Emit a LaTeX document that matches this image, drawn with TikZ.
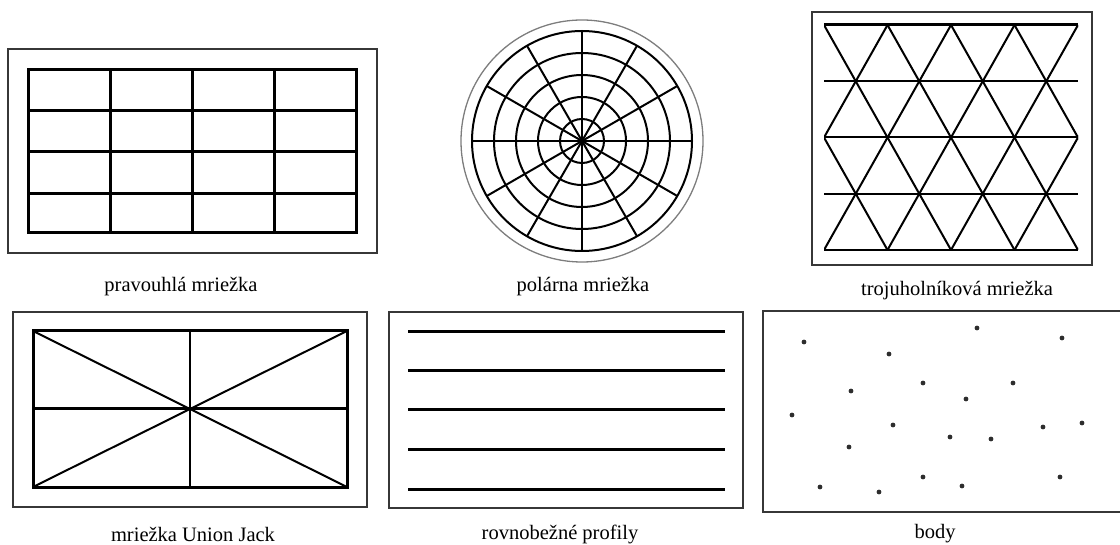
\documentclass[tikz,border=0pt]{standalone}
\usepackage{fontspec}
\setmainfont{Liberation Serif}
\usepackage{tikz}
\definecolor{framegray}{RGB}{55,55,55}
\definecolor{ringgray}{RGB}{125,125,125}
\definecolor{dotgray}{RGB}{45,45,45}

\begin{document}
\begin{tikzpicture}[x=1pt, y=-1pt,
  frame/.style={draw=framegray, line width=1.3pt},
  heavy/.style={line width=3pt},
  light/.style={line width=2pt},
  caption/.style={font=\fontsize{20.5}{24}\selectfont, inner sep=0pt},
  sample/.style={fill=dotgray}]
\useasboundingbox (0,0) rectangle (1120,545);

%% pravouhla mriezka
\draw[frame] (8,49) rectangle (377,253);
\foreach \gx in {110,192,274} \draw[heavy] (\gx,70) -- (\gx,233);
\foreach \gy in {111,152,194} \draw[heavy] (28,\gy) -- (356,\gy);
\draw[heavy] (28,70) rectangle (356,233);
\node[caption] (rectcap) at (181,287) {pravouhlá mriežka};

%% polarna mriezka
\draw[draw=ringgray, line width=1.3pt] (582,141) circle[radius=121pt];
\foreach \r in {22,44,66,88,110} \draw[light] (582,141) circle[radius=\r pt];
\foreach \a in {0,30,...,330} \draw[light] (582,141) -- ++(\a:110);
\fill (582,141) circle[radius=3pt];
\node[caption] (polarcap) at (583,287) {polárna mriežka};

%% trojuholnikova mriezka
\draw[frame] (812,12) rectangle (1092,265);
\begin{scope}
  \clip (824,25) rectangle (1078,250);
  \foreach \k in {-2,...,4} \draw[light] ({824+63.5*\k},25) -- ++(127,225);
  \foreach \k in {0,...,6}  \draw[light] ({824+63.5*\k},25) -- ++(-127,225);
\end{scope}
\draw[heavy] (824,25) -- (1078,25);
\foreach \ty in {81.25,137.5,193.75,250} \draw[light] (824,\ty) -- (1078,\ty);
\node[caption] (tricap) at (957,291) {trojuholníková mriežka};

%% mriezka Union Jack
\draw[frame] (13,312) rectangle (367,507);
\draw[heavy] (33,331) rectangle (347,487);
\draw[heavy] (33,409) -- (347,409);
\draw[light] (190,331) -- (190,487);
\draw[light] (33,331) -- (347,487);
\draw[light] (33,487) -- (347,331);
\node[caption] (ujcap) at (193,534) {mriežka Union Jack};

%% rovnobezne profily
\draw[frame] (389,312) rectangle (743,508);
\foreach \py in {332,371,410,449,489} \draw[heavy] (408,\py) -- (725,\py);
\node[caption] (profcap) at (560,534) {rovnobežné profily};

%% body
\draw[frame] (763,311) rectangle (1126,512);
\foreach \bx/\by in {804/342,889/354,977/328,1062/338,851/391,923/383,1013/383,966/399,
    792/415,893/425,950/437,991/439,1043/427,1082/423,849/447,820/487,879/492,923/477,962/486,1060/477}
  \fill[sample] (\bx,\by) circle[radius=2.4pt];
\node[caption] (bodycap) at (935,534) {body};
\end{tikzpicture}
\end{document}
